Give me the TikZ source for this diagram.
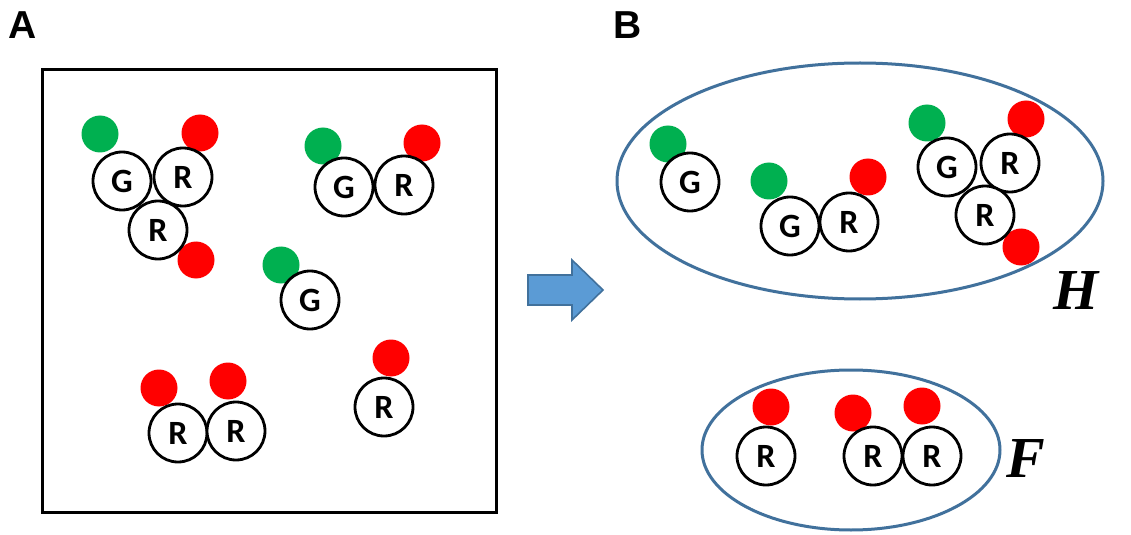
\documentclass[tikz,border=0pt]{standalone}
\usepackage{fontspec}
\setmainfont{Carlito}
\newfontfamily\labfont{Liberation Sans}
\newfontfamily\serfont{Liberation Serif}
\usetikzlibrary{shapes.geometric}
\definecolor{dgreen}{HTML}{00B050}
\definecolor{dred}{HTML}{FF0000}
\definecolor{ablue}{HTML}{5B9BD5}
\definecolor{bblue}{HTML}{41719C}
\tikzset{
  mol/.style={circle, draw=black, fill=white, line width=1.4pt, minimum size=29pt, inner sep=0pt, font=\fontsize{17}{17}\selectfont\bfseries},
  gdot/.style={circle, fill=dgreen, minimum size=18.5pt, inner sep=0pt},
  rdot/.style={circle, fill=dred, minimum size=18.5pt, inner sep=0pt},
  group/.style={ellipse, draw=bblue, line width=1.5pt, inner sep=0pt},
  panel/.style={font=\labfont\fontsize{19.5}{19.5}\selectfont\bfseries},
  setlab/.style={font=\serfont\fontsize{29}{29}\selectfont\bfseries\itshape}
}
\begin{document}
\begin{tikzpicture}[x=0.5pt,y=-0.5pt]
\fill[white] (0,0) rectangle (1131,535);
\useasboundingbox (0,0) rectangle (1131,535);
% panel labels
\node[panel] (A) at (23,25) {A};
\node[panel] (B) at (628,25) {B};
% box
\draw[line width=1.5pt] (42,70) rectangle (496,512);
% ---- panel A ----
% cluster GRR
\node[gdot] (a1g) at (100,134) {};
\node[rdot] (a1r1) at (200,133) {};
\node[rdot] (a1r2) at (196,260) {};
\node[mol] (a1G) at (122,181) {G};
\node[mol] (a1R) at (183,177) {R};
\node[mol] (a1R2) at (158,230) {R};
% cluster GR
\node[gdot] (a2g) at (323,146) {};
\node[rdot] (a2r) at (422,143) {};
\node[mol] (a2G) at (344,187) {G};
\node[mol] (a2R) at (404,185) {R};
% single G
\node[gdot] (a3g) at (281,265) {};
\node[mol] (a3G) at (310,300) {G};
% RR
\node[rdot] (a4r1) at (159,388) {};
\node[rdot] (a4r2) at (228,381) {};
\node[mol] (a4R1) at (178,433) {R};
\node[mol] (a4R2) at (236,431) {R};
% single R
\node[rdot] (a5r) at (391,358) {};
\node[mol] (a5R) at (384,407) {R};
% arrow
\draw[fill=ablue, draw=bblue, line width=0.8pt] (528,275) -- (572,275) -- (572,260) -- (603,290) -- (572,320) -- (572,305) -- (528,305) -- cycle;
% ---- panel B ----
\node[group, minimum width=243pt, minimum height=118pt] (H) at (860,181) {};
\node[group, minimum width=149pt, minimum height=80pt] (F) at (851,450) {};
\node[setlab] (Hl) at (1076,291) {H};
\node[setlab] (Fl) at (1026,459) {F};
% H contents
\node[gdot] (b1g) at (668,144) {};
\node[mol] (b1G) at (690,182) {G};
\node[gdot] (b2g) at (769,181) {};
\node[rdot] (b2r) at (868,177) {};
\node[mol] (b2G) at (790,226) {G};
\node[mol] (b2R) at (849,222) {R};
\node[gdot] (b3g) at (927,123) {};
\node[rdot] (b3r1) at (1026,119) {};
\node[rdot] (b3r2) at (1021,247) {};
\node[mol] (b3G) at (947,167) {G};
\node[mol] (b3R) at (1010,163) {R};
\node[mol] (b3R2) at (985,215) {R};
% F contents
\node[rdot] (c1r) at (771,407) {};
\node[mol] (c1R) at (766,456) {R};
\node[rdot] (c2r1) at (853,413) {};
\node[rdot] (c2r2) at (922,406) {};
\node[mol] (c2R1) at (873,456) {R};
\node[mol] (c2R2) at (932,456) {R};
\end{tikzpicture}
\end{document}
